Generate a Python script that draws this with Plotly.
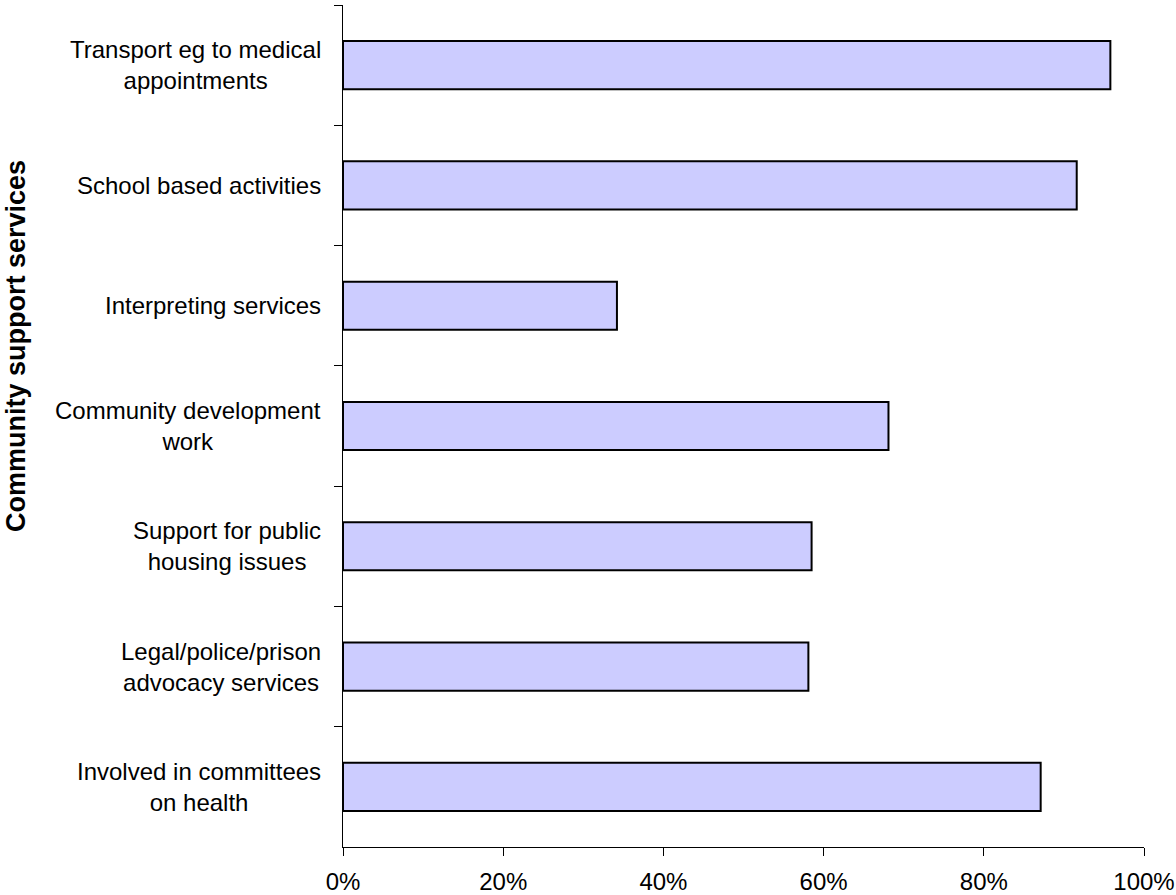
import plotly.graph_objects as go

# Community support services and the share of respondents providing each (%)
categories = [
    "Transport eg to medical<br>appointments",
    "School based activities",
    "Interpreting services",
    "Community development<br>work",
    "Support for public<br>housing issues",
    "Legal/police/prison<br>advocacy services",
    "Involved in committees<br>on health",
]
values = [95.8, 91.6, 34.2, 68.1, 58.5, 58.1, 87.1]

x_ticks = [0, 20, 40, 60, 80, 100]
x_tick_labels = ["0%", "20%", "40%", "60%", "80%", "100%"]

FONT = "Liberation Sans, Arial, sans-serif"

fig = go.Figure(
    go.Bar(
        x=values,
        y=categories,
        orientation="h",
        marker=dict(color="#CCCCFF", line=dict(color="black", width=2)),
        width=0.4,
        hoverinfo="x+y",
    )
)

# Category labels: centred lines, block right-aligned next to the axis
for cat in categories:
    fig.add_annotation(
        x=0, y=cat, xref="x", yref="y",
        text=cat, showarrow=False,
        xanchor="right", align="center",
        xshift=-20,
        font=dict(family=FONT, size=24, color="black"),
    )

fig.add_annotation(
    xref="paper", yref="paper",
    x=(16 - 343) / 801, y=1 - (346 - 5) / 842,
    text="<b>Community support services</b>",
    textangle=-90, showarrow=False,
    xanchor="center", yanchor="middle",
    font=dict(family=FONT, size=27, color="black"),
)

fig.update_layout(
    width=1176, height=895,
    margin=dict(l=343, r=32, t=5, b=48, autoexpand=False),
    paper_bgcolor="white", plot_bgcolor="white",
    showlegend=False,
    font=dict(family=FONT, size=24, color="black"),
    xaxis=dict(
        range=[0, 100],
        automargin=False,
        tickvals=x_ticks, ticktext=x_tick_labels,
        ticks="outside", ticklen=8, tickcolor="black", tickwidth=1,
        ticklabelstandoff=5,
        showline=True, linecolor="black", linewidth=1,
        showgrid=False, zeroline=False,
        tickfont=dict(family=FONT, size=24, color="black"),
    ),
    yaxis=dict(
        type="category",
        automargin=False,
        autorange="reversed",
        categoryorder="array", categoryarray=categories,
        tickson="boundaries",
        ticks="outside", ticklen=8, tickcolor="black", tickwidth=1,
        showticklabels=False,
        showline=True, linecolor="black", linewidth=1,
        showgrid=False, zeroline=False,
    ),
)

fig.write_html("out.html")
